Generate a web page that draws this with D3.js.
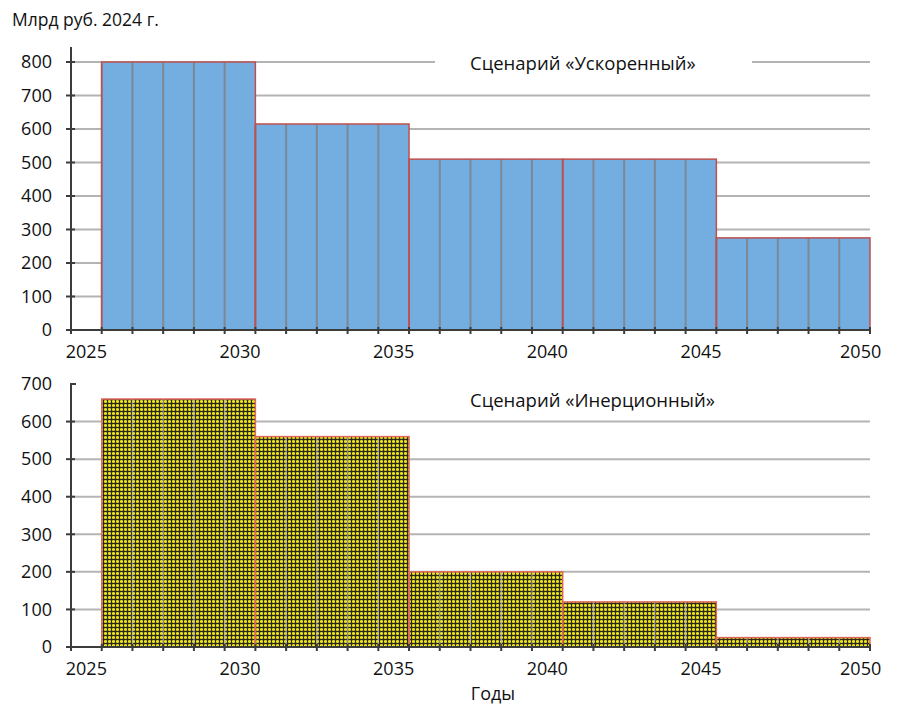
<!DOCTYPE html>
<html>
<head>
<meta charset="utf-8">
<title>Сценарии</title>
<script src="https://d3js.org/d3.v7.min.js"></script>
<style>
  body { margin: 0; background: #fff; }
  text { font-family: "Open Sans", "Noto Sans", sans-serif; fill: #111; }
</style>
</head>
<body>
<div id="chart"></div>
<script>
// data: 5-year periods and the values for each scenario
var periods = [[2026, 2030], [2031, 2035], [2036, 2040], [2041, 2045], [2046, 2050]];
var accelerated = [800, 615, 510, 510, 275];
var inertial = [660, 560, 200, 120, 25];
var xLabels = [2025, 2030, 2035, 2040, 2045, 2050];
var topTicks = [0, 100, 200, 300, 400, 500, 600, 700, 800];
var bottomTicks = [0, 100, 200, 300, 400, 500, 600, 700];
var titles = ["Сценарий «Ускоренный»", "Сценарий «Инерционный»"];

var W = 898, H = 709, FS = 18;
var svg = d3.select("#chart").append("svg").attr("width", W).attr("height", H);

var defs = svg.append("defs");
var pat = defs.append("pattern").attr("id", "plaid")
  .attr("patternUnits", "userSpaceOnUse").attr("width", 4).attr("height", 4);
pat.append("rect").attr("width", 4).attr("height", 4).attr("fill", "#a8a424");
pat.append("rect").attr("x", 0).attr("y", 1).attr("width", 4).attr("height", 1).attr("fill", "#ece41c");
pat.append("rect").attr("x", 1).attr("y", 0).attr("width", 1).attr("height", 4).attr("fill", "#ece41c").attr("opacity", 0.8);
pat.append("rect").attr("x", 0).attr("y", 3).attr("width", 4).attr("height", 1).attr("fill", "#2c2a14");
pat.append("rect").attr("x", 3).attr("y", 0).attr("width", 1).attr("height", 4).attr("fill", "#2c2a14");

var years = d3.range(2025, 2051);
var x = d3.scaleBand().domain(years).range([71, 870]).paddingInner(0).paddingOuter(0);
var bw = x.bandwidth();

function drawPanel(opt) {
  var g = svg.append("g");
  var y = d3.scaleLinear().domain([0, opt.max]).range([opt.y0, opt.y1]);

  // gridlines
  g.selectAll(".grid").data(opt.grid).enter().append("line")
    .attr("x1", 71).attr("x2", 870)
    .attr("y1", function (d) { return y(d); }).attr("y2", function (d) { return y(d); })
    .attr("stroke", "#b4b4b4").attr("stroke-width", 2);

  // title box covers the gridline
  g.append("rect").attr("x", opt.boxX).attr("y", opt.boxY)
    .attr("width", opt.boxW).attr("height", opt.boxH).attr("fill", "#fff");
  g.append("text").attr("x", 470).attr("y", opt.titleY)
    .attr("font-size", 18.5).text(opt.title);

  // yearly bars
  var bars = [];
  periods.forEach(function (p, i) {
    d3.range(p[0], p[1] + 1).forEach(function (yr) {
      bars.push({ year: yr, value: opt.values[i] });
    });
  });
  g.selectAll(".bar").data(bars).enter().append("rect")
    .attr("x", function (d) { return x(d.year); })
    .attr("y", function (d) { return y(d.value); })
    .attr("width", bw)
    .attr("height", function (d) { return y(0) - y(d.value); })
    .attr("fill", opt.fill);

  // separators between years
  g.selectAll(".sep").data(bars).enter().append("line")
    .attr("x1", function (d) { return x(d.year); })
    .attr("x2", function (d) { return x(d.year); })
    .attr("y1", function (d) { return y(d.value); })
    .attr("y2", y(0))
    .attr("stroke", opt.sepColor).attr("stroke-width", opt.sepWidth)
    .attr("opacity", opt.sepOpacity);

  // period outlines
  g.selectAll(".period").data(periods).enter().append("rect")
    .attr("x", function (p) { return x(p[0]); })
    .attr("y", function (p, i) { return y(opt.values[i]); })
    .attr("width", function (p) { return x(p[1]) + bw - x(p[0]); })
    .attr("height", function (p, i) { return y(0) - y(opt.values[i]); })
    .attr("fill", "none").attr("stroke", opt.outline).attr("stroke-width", 1.5);

  // y axis
  g.append("line").attr("x1", 71).attr("x2", 71)
    .attr("y1", y(0)).attr("y2", opt.axisTop)
    .attr("stroke", "#3c3c3c").attr("stroke-width", 2);
  g.selectAll(".ytick").data(opt.ticks).enter().append("line")
    .attr("x1", function (d) { return d === opt.max && opt.halfTop ? 70 : 66; })
    .attr("x2", function (d) { return d === opt.max && opt.halfTop ? 76 : 75; })
    .attr("y1", function (d) { return y(d); }).attr("y2", function (d) { return y(d); })
    .attr("stroke", "#3c3c3c").attr("stroke-width", 2);
  g.selectAll(".ylab").data(opt.ticks).enter().append("text")
    .attr("x", 52).attr("y", function (d) { return y(d); })
    .attr("dy", "0.35em").attr("text-anchor", "end")
    .attr("font-size", FS).text(function (d) { return d; });

  // x axis
  g.append("line").attr("x1", 68).attr("x2", 871)
    .attr("y1", y(0)).attr("y2", y(0))
    .attr("stroke", "#3c3c3c").attr("stroke-width", 2);
  var edges = years.map(function (yr) { return x(yr); }).concat([x(2050) + bw]);
  g.selectAll(".xtick").data(edges).enter().append("line")
    .attr("x1", function (d) { return d; }).attr("x2", function (d) { return d; })
    .attr("y1", y(0) - 3).attr("y2", y(0) + 4)
    .attr("stroke", "#3c3c3c").attr("stroke-width", 2);
  g.selectAll(".xlab").data(xLabels).enter().append("text")
    .attr("x", function (d) { return x(d) + bw / 2 + (d === 2050 ? 6 : 0); })
    .attr("y", y(0) + 22).attr("dy", "0.35em")
    .attr("text-anchor", "middle").attr("font-size", FS)
    .text(function (d) { return d; });
}

drawPanel({
  max: 800, y0: 330, y1: 62, axisTop: 47, values: accelerated, ticks: topTicks,
  grid: topTicks.slice(1), fill: "#74ade0", sepColor: "#7d8894", sepWidth: 2, sepOpacity: 1,
  outline: "#c0504d", title: titles[0], titleY: 70,
  boxX: 435, boxY: 44, boxW: 317, boxH: 34, halfTop: false
});

drawPanel({
  max: 700, y0: 647, y1: 384, axisTop: 384, values: inertial, ticks: bottomTicks,
  grid: bottomTicks.slice(1, 7), fill: "url(#plaid)", sepColor: "#b0b0d0", sepWidth: 1.5, sepOpacity: 0.6,
  outline: "#e0675c", title: titles[1], titleY: 407,
  boxX: 0, boxY: 0, boxW: 0, boxH: 0, halfTop: true
});

svg.append("text").attr("x", 12).attr("y", 26).attr("font-size", 17.5).text("Млрд руб. 2024 г.");
svg.append("text").attr("x", 493).attr("y", 700).attr("text-anchor", "middle")
  .attr("font-size", FS).text("Годы");
</script>
</body>
</html>
